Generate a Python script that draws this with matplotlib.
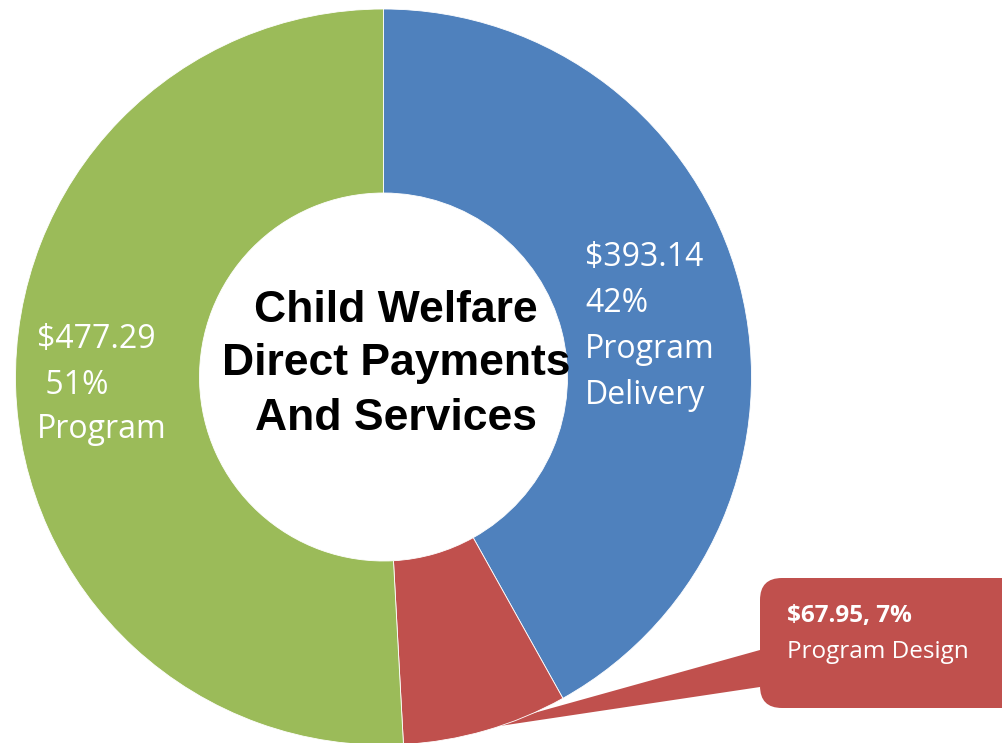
import matplotlib.pyplot as plt
from matplotlib.patches import FancyBboxPatch, Polygon

# --- data ---
categories = ['Program Delivery', 'Program Design', 'Program']
amounts = [393.14, 67.95, 477.29]
colors = ['#4F81BD', '#C0504D', '#9BBB59']
center_title = ['Child Welfare', 'Direct Payments', 'And Services']

W, H = 1002, 743
total = sum(amounts)
pcts = [round(a / total * 100) for a in amounts]

fig = plt.figure(figsize=(W / 100, H / 100), dpi=100)
ax = fig.add_axes([0, 0, 1, 1])

def py(y):
    # pixel row (from top) -> data y
    return H - y

# callout for the small slice (drawn under the ring)
tail = Polygon([(760, py(650)), (760, py(687)), (473, py(730))],
               closed=True, facecolor=colors[1], edgecolor='none', zorder=0)
ax.add_patch(tail)
box = FancyBboxPatch((760, py(708)), 280, 130,
                     boxstyle='round,pad=0,rounding_size=22',
                     facecolor=colors[1], edgecolor='none', zorder=0)
ax.add_patch(box)

# donut ring
ax.pie(amounts, colors=colors, startangle=90, counterclock=False,
       center=(383.5, py(377)), radius=368,
       wedgeprops=dict(width=184, edgecolor='white', linewidth=0.6),
       frame=False)

ax.set_xlim(0, W)
ax.set_ylim(0, H)
ax.set_aspect('equal')
ax.axis('off')

lab_font = dict(family='Open Sans', color='white', fontsize=23, va='center', ha='left')

# Program Delivery label (blue)
blue_lines = [f'${amounts[0]:.2f}', f'{pcts[0]}%', 'Program', 'Delivery']
for i, s in enumerate(blue_lines):
    ax.text(585, py(257 + 46 * i), s, **lab_font)

# Program label (green)
green_lines = [f'${amounts[2]:.2f}', f' {pcts[2]}%', categories[2]]
for i, s in enumerate(green_lines):
    ax.text(37, py(340 + 45 * i), s, **lab_font)

# Program Design callout text
ax.text(787, py(616), f'${amounts[1]:.2f}, {pcts[1]}%', family='Open Sans',
        fontweight='bold', color='white', fontsize=17.5, va='center', ha='left')
ax.text(787, py(652), categories[1], family='Open Sans',
        color='white', fontsize=17.5, va='center', ha='left')

# center title
for i, s in enumerate(center_title):
    ax.text(396, py(310 + 54 * i), s, family='Liberation Sans', fontweight='bold',
            fontsize=32, color='black', ha='center', va='center')

fig.savefig('out.png', dpi=100)
